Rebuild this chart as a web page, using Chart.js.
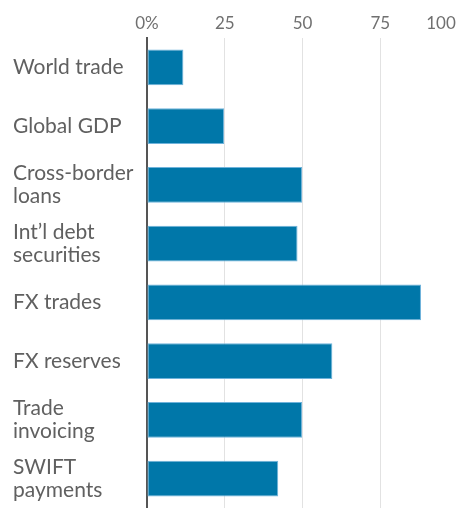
<!DOCTYPE html>
<html>
<head>
<meta charset="utf-8">
<script src="https://cdn.jsdelivr.net/npm/chart.js@4.4.1/dist/chart.umd.min.js"></script>
<style>
  html, body { margin: 0; padding: 0; background: #fff; overflow: hidden; }
  #wrap { position: relative; width: 458px; height: 508px; }
</style>
</head>
<body>
<div id="wrap"><canvas id="myChart"></canvas></div>
<script>
// categories (multi-line labels as arrays)
const categorias = [
  'World trade',
  'Global GDP',
  ['Cross-border', 'loans'],
  ['Int\u2019l debt', 'securities'],
  'FX trades',
  'FX reserves',
  ['Trade', 'invoicing'],
  ['SWIFT', 'payments']
];
// share, percent
const valores = [11.7, 24.8, 49.9, 48.4, 88.1, 59.6, 49.9, 42.2];
const rotulosX = ['0%', '25', '50', '75', '100'];

var ctx = document.getElementById('myChart').getContext('2d');

chart = new Chart(ctx, {
  type: 'bar',
  data: {
    labels: categorias,
    datasets: [{
      data: valores,
      backgroundColor: '#0077a9',
      borderColor: '#6fb3db',
      borderWidth: 1,
      borderSkipped: false,
      categoryPercentage: 1,
      barPercentage: 0.61
    }]
  },
  options: {
    indexAxis: 'y',
    responsive: true,
    maintainAspectRatio: false,
    animation: false,
    layout: { padding: { left: 13, top: 0, right: 0, bottom: 0 } },
    plugins: { legend: { display: false }, tooltip: { enabled: false } },
    scales: {
      x: {
        position: 'top',
        min: 0,
        max: 100,
        ticks: {
          stepSize: 25,
          padding: 4,
          color: '#707070',
          font: { family: 'Lato', size: 17 },
          // last label pushed inward so it stays inside the canvas
          callback: function(v, i) {
            var t = rotulosX[i];
            return i === rotulosX.length - 1 ? t + '\u2002\u2002\u2002\u2002' : t;
          }
        },
        grid: {
          drawTicks: false,
          color: function(c) {
            return (c.tick && (c.tick.value === 0 || c.tick.value === 100)) ? 'rgba(0,0,0,0)' : '#e2e2e2';
          },
          lineWidth: 1
        },
        border: { display: false },
        afterFit: function(scale) {
          scale.height = 38;
          scale.paddingLeft = 0;
          scale.paddingRight = 0;
        }
      },
      y: {
        ticks: {
          crossAlign: 'far',
          color: '#606060',
          font: { family: 'Lato', size: 21, lineHeight: 1.12 }
        },
        grid: { display: false, drawTicks: false },
        border: { display: true, color: '#555', width: 2 },
        afterFit: function(scale) {
          scale.width = 134;
          scale.paddingTop = 0;
          scale.paddingBottom = 0;
        }
      }
    }
  }
});
</script>
</body>
</html>
